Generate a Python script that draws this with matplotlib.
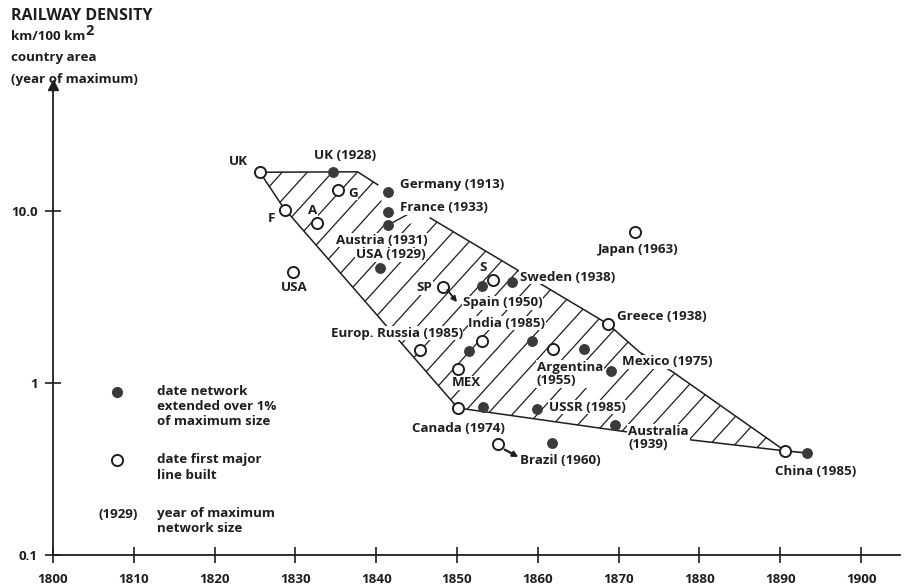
import matplotlib.pyplot as plt
import numpy as np
from matplotlib.patches import Polygon

plt.rcParams['font.family'] = ['Open Sans', 'DejaVu Sans']
plt.rcParams['font.weight'] = 'bold'
plt.rcParams['font.size'] = 9.6

INK = '#1e1e1e'
DOT = '#3a3a3a'

# date first major line built (open circles)
first_country = ['UK', 'France', 'Austria', 'Germany', 'USA', 'Spain', 'Sweden',
                 'Europ. Russia', 'India', 'Mexico', 'Argentina', 'Greece',
                 'Canada', 'Brazil', 'China', 'Japan']
first_year = [1825.6, 1828.7, 1832.7, 1835.3, 1829.7, 1848.3, 1854.5,
              1845.4, 1853.1, 1850.1, 1861.9, 1868.7,
              1850.1, 1855.1, 1890.6, 1872.0]
first_density = [16.8, 10.1, 8.5, 13.2, 4.42, 3.61, 3.97,
                 1.56, 1.75, 1.21, 1.58, 2.20,
                 0.716, 0.441, 0.403, 7.55]

# date network extended over 1% of maximum size (filled dots)
onepct_country = ['UK', 'Germany', 'Austria', 'France', 'USA', 'Spain', 'Sweden',
                  'Europ. Russia', 'India', 'Argentina', 'Mexico', 'Canada',
                  'USSR', 'Australia', 'Brazil', 'China']
onepct_year = [1834.7, 1841.5, 1841.5, 1841.5, 1840.5, 1853.1, 1856.8,
               1851.5, 1859.3, 1865.7, 1869.1, 1853.2,
               1859.9, 1869.6, 1861.8, 1893.3]
onepct_density = [16.9, 12.9, 9.87, 8.3, 4.67, 3.66, 3.87,
                  1.53, 1.75, 1.58, 1.17, 0.724,
                  0.71, 0.570, 0.448, 0.392]

# envelope of the diffusion band
env_year = [1825.6, 1837.7, 1840.2, 1841.5, 1846.7, 1868.7, 1872.6,
            1876.7, 1890.6, 1879.1, 1870.2, 1850.1, 1828.5]
env_density = [16.8, 16.9, 14.2, 7.76, 9.1, 2.20, 1.51,
               1.16, 0.403, 0.466, 0.526, 0.716, 10.5]

# point labels: text, year, density, alignment
labels = [
    ('UK', 1823.0, 19.3, 'center'),
    ('UK (1928)', 1836.1, 20.9, 'center'),
    ('Germany (1913)', 1842.9, 14.2, 'left'),
    ('France (1933)', 1842.9, 10.5, 'left'),
    ('Austria (1931)', 1840.7, 6.78, 'center'),
    ('USA (1929)', 1841.8, 5.55, 'center'),
    ('USA', 1829.9, 3.57, 'center'),
    ('F', 1827.0, 9.1, 'center'),
    ('A', 1832.1, 10.1, 'center'),
    ('G', 1837.1, 12.7, 'center'),
    ('S', 1853.2, 4.67, 'center'),
    ('SP', 1846.0, 3.57, 'center'),
    ('Sweden (1938)', 1857.8, 4.13, 'left'),
    ('Spain (1950)', 1850.7, 2.92, 'left'),
    ('India (1985)', 1851.4, 2.23, 'left'),
    ('Europ. Russia (1985)', 1850.7, 1.95, 'right'),
    ('MEX', 1851.2, 1.0, 'center'),
    ('Argentina\n(1955)', 1859.9, 1.13, 'left'),
    ('Greece (1938)', 1869.8, 2.42, 'left'),
    ('Mexico (1975)', 1870.4, 1.325, 'left'),
    ('Canada (1974)', 1850.2, 0.547, 'center'),
    ('USSR (1985)', 1861.4, 0.724, 'left'),
    ('Australia\n(1939)', 1871.2, 0.479, 'left'),
    ('Brazil (1960)', 1857.8, 0.352, 'left'),
    ('China (1985)', 1889.4, 0.304, 'left'),
    ('Japan (1963)', 1867.5, 6.01, 'left'),
]

xticks = list(range(1800, 1901, 10))
yticks = [0.1, 1, 10]
ytick_labels = ['0.1', '1', '10.0']

fig = plt.figure(figsize=(9.05, 5.88), dpi=100)
ax = fig.add_axes([53 / 905, 1 - 555 / 588, 847 / 905, 470 / 588])
ax.set_yscale('log')

# hatched band
env = Polygon(np.column_stack([env_year, env_density]), closed=True,
              facecolor='none', edgecolor='none')
ax.add_patch(env)
step = 25 / 847
for c in np.arange(0.362 - 40 * step, 1.0, step):
    ln, = ax.plot([c, c + 0.504], [0, 1], transform=ax.transAxes,
                  color=INK, lw=0.9, zorder=1)
    ln.set_clip_path(env)

ex = np.array(env_year)
ey = np.array(env_density)
top_idx = [0, 1, 2]
rest_idx = [4, 5, 6, 7, 8, 9, 10, 11, 12, 0]
ax.plot(ex[top_idx], ey[top_idx], color=INK, lw=1.1, zorder=2)
ax.plot(ex[rest_idx], ey[rest_idx], color=INK, lw=1.1, zorder=2)

# pointers
ax.plot([1841.5, 1843.8], [8.3, 9.5], color=INK, lw=1.0, zorder=2)
ax.plot([1890.6, 1893.3], [0.403, 0.392], color=INK, lw=1.2, zorder=2)
ax.annotate('', xy=(1850.0, 2.95), xytext=(1848.8, 3.48),
            arrowprops=dict(arrowstyle='-|>', color=INK, lw=1.3,
                            mutation_scale=8, shrinkA=0, shrinkB=0), zorder=6)
ax.annotate('', xy=(1857.6, 0.371), xytext=(1855.9, 0.410),
            arrowprops=dict(arrowstyle='-|>', color=INK, lw=1.6,
                            mutation_scale=8, shrinkA=0, shrinkB=0), zorder=6)

for txt, x, y, ha in labels:
    ax.text(x, y, txt, ha=ha, va='center', color=INK, linespacing=1.05,
            zorder=4, bbox=dict(facecolor='white', edgecolor='none', pad=0.6))

ax.plot(first_year, first_density, 'o', ms=8, mfc='white', mec=INK,
        mew=1.4, zorder=5, ls='none')
ax.plot(onepct_year, onepct_density, 'o', ms=7, mfc=DOT, mec=DOT,
        mew=0.8, zorder=5, ls='none')

# key
ax.plot([0.0756], [0.347], 'o', ms=7, mfc=DOT, mec=DOT, transform=ax.transAxes)
ax.plot([0.0756], [0.202], 'o', ms=8, mfc='white', mec=INK, mew=1.4,
        transform=ax.transAxes)
ax.text(0.1228, 0.362, 'date network\nextended over 1%\nof maximum size',
        transform=ax.transAxes, va='top', ha='left', color=INK, linespacing=1.22)
ax.text(0.1228, 0.216, 'date first major\nline built',
        transform=ax.transAxes, va='top', ha='left', color=INK, linespacing=1.22)
ax.text(0.1004, 0.087, '(1929)', transform=ax.transAxes, va='center',
        ha='right', color=INK)
ax.text(0.1228, 0.102, 'year of maximum\nnetwork size',
        transform=ax.transAxes, va='top', ha='left', color=INK, linespacing=1.22)

# axes styling
ax.set_xlim(1800, 1800 + 847 / 8.08)
ax.set_ylim(0.1, 10 ** (-1 + 470 / 172))
ax.spines['top'].set_visible(False)
ax.spines['right'].set_visible(False)
for s in ('left', 'bottom'):
    ax.spines[s].set_linewidth(1.3)
    ax.spines[s].set_color(INK)
ax.set_xticks(xticks)
ax.set_xticklabels([str(t) for t in xticks])
ax.set_yticks(yticks)
ax.set_yticklabels(ytick_labels)
ax.yaxis.set_minor_locator(plt.NullLocator())
ax.tick_params(axis='both', direction='inout', length=12, width=1.2,
               colors=INK, labelsize=9.6)
ax.tick_params(axis='x', pad=7)
ax.tick_params(axis='y', pad=5)
ax.plot([0], [1], marker='^', ms=7, color=INK, transform=ax.transAxes,
        clip_on=False)

# heading
fig.text(0.012, 1 - 16 / 588, 'RAILWAY DENSITY', fontsize=11.5,
         fontweight='bold', va='center', ha='left', color=INK)
t = fig.text(0.012, 1 - 37 / 588, 'km/100 km', va='center', ha='left', color=INK)
ax.annotate('2', xy=(1.0, 0.45), xycoords=t, ha='left', va='bottom',
            fontsize=10.5, color=INK)
fig.text(0.012, 1 - 58 / 588, 'country area', va='center', ha='left', color=INK)
fig.text(0.012, 1 - 79 / 588, '(year of maximum)', va='center', ha='left',
         color=INK)

fig.savefig('out.png', dpi=100)
